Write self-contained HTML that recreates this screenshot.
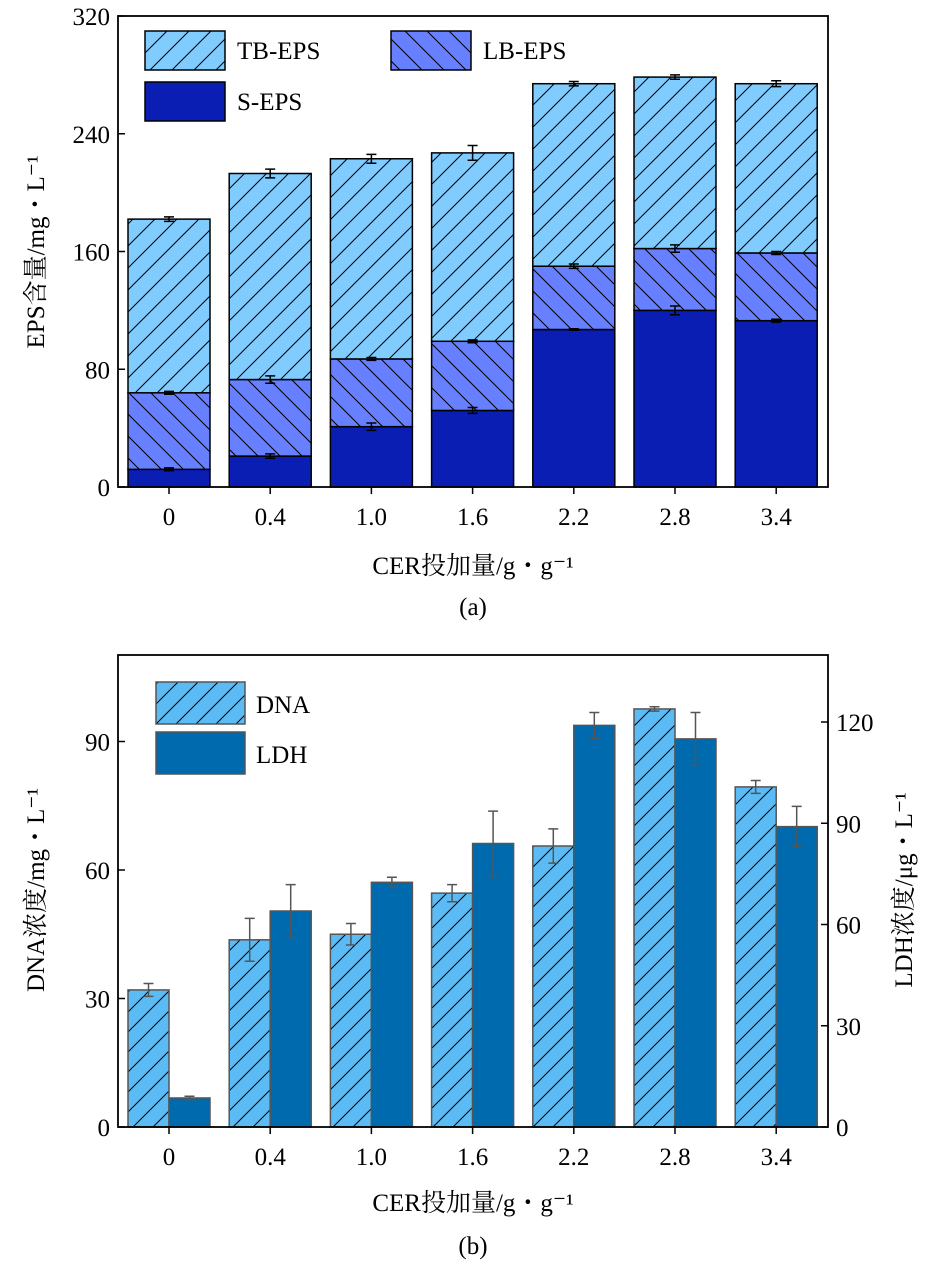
<!DOCTYPE html>
<html><head><meta charset="utf-8"><style>
body{margin:0;background:#fff;}
svg text{font-family:"Liberation Serif","Noto Serif CJK SC","Noto Sans CJK SC",serif;fill:#000;}
</style></head><body>
<svg id="s" width="952" height="1265" xmlns="http://www.w3.org/2000/svg">
<defs>
<pattern id="hf" patternUnits="userSpaceOnUse" width="22" height="22">
<rect width="22" height="22" fill="#80ccff"/><path d="M-2,24 L24,-2 M-13,13 L13,-13 M9,35 L35,9" stroke="#000" stroke-width="1"/></pattern>
<pattern id="hb" patternUnits="userSpaceOnUse" width="22" height="22">
<rect width="22" height="22" fill="#6680ff"/><path d="M-2,-2 L24,24 M-13,9 L13,35 M9,-13 L35,13" stroke="#000" stroke-width="1"/></pattern>
<pattern id="hd" patternUnits="userSpaceOnUse" width="20" height="20">
<rect width="20" height="20" fill="#5bbcf5"/><path d="M-2,22 L22,-2 M-12,12 L12,-12 M8,32 L32,8" stroke="#000" stroke-width="1"/></pattern>
</defs>
<g id="ga"></g><g id="gb"></g>
</svg>
<script>
const cats=["0","0.4","1.0","1.6","2.2","2.8","3.4"];
const sEps=[12,21,41,52,107,120,113];
const lbTop=[64,73,87,99,150,162,159];
const tbTop=[182,213,223,227,274,278.5,274];
const sErr=[1,1.5,2.5,2,0.5,3,1];
const lbErr=[1,2.5,1,1,1.5,2.5,1];
const tbErr=[1.5,3,3,5,1.5,1.5,2];
const ticksA=[0,80,160,240,320];
const dna=[32,43.7,45,54.6,65.6,97.6,79.4];
const dnaErr=[1.5,5,2.5,2,4,0.5,1.5];
const ldh=[8.6,64,72.5,84,119,115,89];
const ldhErr=[0.5,7.8,1.5,9.6,3.8,7.8,6];
const ticksBL=[0,30,60,90];
const ticksBR=[0,30,60,90,120];

const NS="http://www.w3.org/2000/svg";
const FS=25;
function mk(p,t,a,txt){const e=document.createElementNS(NS,t);for(const k in a)e.setAttribute(k,a[k]);if(txt!==undefined)e.textContent=txt;p.appendChild(e);return e;}
const X0=118,X1=828;
const cx=i=>169+i*101.2;

// ---- chart a
const ga=document.getElementById('ga');
const yA=v=>487-v*(471/320);
ticksA.forEach(t=>{
 const l=mk(ga,'line',{x1:X0,x2:X0+7,y1:yA(t),y2:yA(t),stroke:'#000','stroke-width':1.5});
 
 const tx=mk(ga,'text',{x:X0-8,y:yA(t)+9,'text-anchor':'end','font-size':FS},t);
 
});
cats.forEach((c,i)=>{
 const bw=82,x=cx(i)-bw/2;
 const segs=[[0,sEps[i],'#0a1eb4','s-eps-bar'],[sEps[i],lbTop[i],'url(#hb)','lb-eps-bar'],[lbTop[i],tbTop[i],'url(#hf)','tb-eps-bar']];
 segs.forEach(s=>{const r=mk(ga,'rect',{x:x,y:yA(s[1]),width:bw,height:yA(s[0])-yA(s[1]),fill:s[2],stroke:'#000','stroke-width':1.5});
  });
 [[sEps[i],sErr[i]],[lbTop[i],lbErr[i]],[tbTop[i],tbErr[i]]].forEach(e=>{
  const g=mk(ga,'path',{d:`M${cx(i)},${yA(e[0]-e[1])}V${yA(e[0]+e[1])}M${cx(i)-5},${yA(e[0]-e[1])}h10M${cx(i)-5},${yA(e[0]+e[1])}h10`,stroke:'#000','stroke-width':1.5,fill:'none'});
  });
 const tl=mk(ga,'line',{x1:cx(i),x2:cx(i),y1:487,y2:494,stroke:'#000','stroke-width':1.5});
 
 const lx=mk(ga,'text',{x:cx(i),y:525,'text-anchor':'middle','font-size':FS},c);
 
});
const fa=mk(ga,'rect',{x:X0,y:16,width:X1-X0,height:471,fill:'none',stroke:'#000','stroke-width':1.8});

[[145,31,'url(#hf)','TB-EPS'],[391,31,'url(#hb)','LB-EPS'],[145,82,'#0a1eb4','S-EPS']].forEach(L=>{
 const r=mk(ga,'rect',{x:L[0],y:L[1],width:80,height:39,fill:L[2],stroke:'#000','stroke-width':1.5});
 
 const t=mk(ga,'text',{x:L[0]+92,y:L[1]+28,'font-size':FS},L[3]);
 
});
let t1=mk(ga,'text',{x:0,y:0,'font-size':FS,'text-anchor':'middle',transform:'translate(44,252) rotate(-90)'},'EPS含量/mg・L⁻¹');

let t2=mk(ga,'text',{x:473,y:574,'font-size':FS,'text-anchor':'middle'},'CER投加量/g・g⁻¹');

let t3=mk(ga,'text',{x:473,y:615,'font-size':FS,'text-anchor':'middle'},'(a)');


// ---- chart b
const gb=document.getElementById('gb');
const Y0=1127,T=655;
const yL=v=>Y0-v*(128.5/30);
const yR=v=>Y0-v*(101.25/30);
ticksBL.forEach(t=>{
 const l=mk(gb,'line',{x1:X0,x2:X0+7,y1:yL(t),y2:yL(t),stroke:'#000','stroke-width':1.5});
 
 const tx=mk(gb,'text',{x:X0-8,y:yL(t)+9,'text-anchor':'end','font-size':FS},t);
 
});
ticksBR.forEach(t=>{
 const l=mk(gb,'line',{x1:X1-7,x2:X1,y1:yR(t),y2:yR(t),stroke:'#000','stroke-width':1.5});
 
 const tx=mk(gb,'text',{x:X1+8,y:yR(t)+9,'text-anchor':'start','font-size':FS},t);
 
});
cats.forEach((c,i)=>{
 const bw=41;
 const r1=mk(gb,'rect',{x:cx(i)-bw,y:yL(dna[i]),width:bw,height:Y0-yL(dna[i]),fill:'url(#hd)',stroke:'#555','stroke-width':1.5});
 
 const r2=mk(gb,'rect',{x:cx(i),y:yR(ldh[i]),width:bw,height:Y0-yR(ldh[i]),fill:'#006aae',stroke:'#555','stroke-width':1.5});
 
 const a=cx(i)-bw/2,b=cx(i)+bw/2;
 const e1=mk(gb,'path',{d:`M${a},${yL(dna[i]-dnaErr[i])}V${yL(dna[i]+dnaErr[i])}M${a-5},${yL(dna[i]+dnaErr[i])}h10M${a-5},${yL(dna[i]-dnaErr[i])}h10`,stroke:'#555','stroke-width':1.5,fill:'none'});
 
 const e2=mk(gb,'path',{d:`M${b},${yR(ldh[i]-ldhErr[i])}V${yR(ldh[i]+ldhErr[i])}M${b-5},${yR(ldh[i]+ldhErr[i])}h10M${b-5},${yR(ldh[i]-ldhErr[i])}h10`,stroke:'#555','stroke-width':1.5,fill:'none'});
 
 const tl=mk(gb,'line',{x1:cx(i),x2:cx(i),y1:Y0,y2:Y0+7,stroke:'#000','stroke-width':1.5});
 
 const lx=mk(gb,'text',{x:cx(i),y:1165,'text-anchor':'middle','font-size':FS},c);
 
});
const fb=mk(gb,'rect',{x:X0,y:T,width:X1-X0,height:Y0-T,fill:'none',stroke:'#000','stroke-width':1.8});

[[682,'url(#hd)','DNA'],[732,'#006aae','LDH']].forEach(L=>{
 const r=mk(gb,'rect',{x:156,y:L[0],width:89,height:42,fill:L[1],stroke:'#555','stroke-width':1.5});
 
 const t=mk(gb,'text',{x:256,y:L[0]+31,'font-size':FS},L[2]);
 
});
let b1=mk(gb,'text',{x:0,y:0,'font-size':FS,'text-anchor':'middle',transform:'translate(44,890) rotate(-90)'},'DNA浓度/mg・L⁻¹');

let b2=mk(gb,'text',{x:0,y:0,'font-size':FS,'text-anchor':'middle',transform:'translate(912,890) rotate(-90)'},'LDH浓度/μg・L⁻¹');

let b3=mk(gb,'text',{x:473,y:1211,'font-size':FS,'text-anchor':'middle'},'CER投加量/g・g⁻¹');

let b4=mk(gb,'text',{x:473,y:1254,'font-size':FS,'text-anchor':'middle'},'(b)');

</script>
</body></html>
